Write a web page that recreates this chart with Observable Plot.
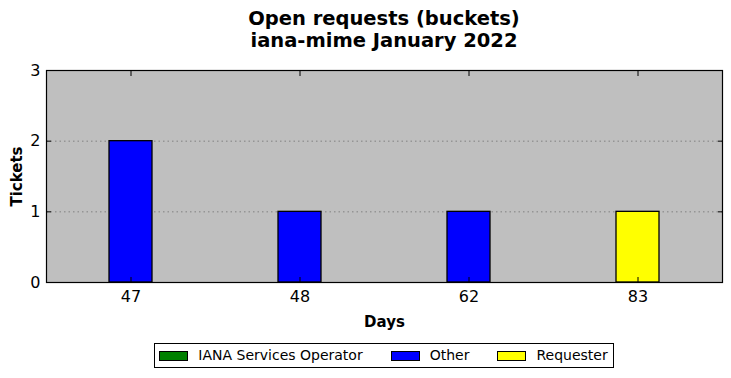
<!DOCTYPE html>
<html><head><meta charset="utf-8">
<script src="https://cdn.jsdelivr.net/npm/d3@7"></script>
<script src="https://cdn.jsdelivr.net/npm/@observablehq/plot@0.6"></script>
<style>
body{margin:0;background:#fff;font-family:"DejaVu Sans",sans-serif;}
#title{margin-left:46px;width:676px;height:60px;text-align:center;font-weight:bold;font-size:19.5px;line-height:22px;padding-top:8px;box-sizing:border-box;color:#000;}
#legendwrap{margin-left:46px;width:676px;text-align:center;margin-top:3px;}
#legend{display:inline-flex;align-items:center;border:1px solid #000;padding:4px 5px 4px 4px;font-size:14px;line-height:15px;}
.item{display:flex;align-items:center;margin-right:28px;}
.item:last-child{margin-right:0}
.sw{width:27px;height:8px;border:1px solid #000;margin-right:10px;}
</style></head><body>
<div id="title">Open requests (buckets)<br>iana-mime January 2022</div>
<div id="chart"></div>
<div id="legendwrap"><div id="legend"></div></div>
<script>
const days = ["47", "48", "62", "83"];
const seriesNames = ["IANA Services Operator", "Other", "Requester"];
const seriesColors = ["#008000", "#0000ff", "#ffff00"];
const ianaValues = [0, 0, 0, 0];
const otherValues = [2, 1, 1, 0];
const requesterValues = [0, 0, 0, 1];
const yTicks = [0, 1, 2, 3];

const valuesBySeries = [ianaValues, otherValues, requesterValues];
const rows = [];
seriesNames.forEach((s, i) => days.forEach((d, j) => rows.push({day: d, series: s, value: valuesBySeries[i][j]})));
const data = rows.filter(r => r.value > 0);

const W = 731, H = 280;
const chart = Plot.plot({
  width: W, height: H,
  marginLeft: 46, marginRight: 9, marginTop: 10, marginBottom: 58,
  style: {fontFamily: "DejaVu Sans, sans-serif", fontSize: "16px", color: "#000", background: "#fff"},
  x: {type: "band", domain: days, padding: 0, label: null},
  y: {domain: [0, 3], label: null},
  color: {domain: seriesNames, range: seriesColors},
  marks: [
    Plot.frame({fill: "#bfbfbf"}),
    Plot.gridY(yTicks, {stroke: "#808080", strokeOpacity: 1, strokeDasharray: "1.5,3", strokeWidth: 1}),
    Plot.barY(data, Plot.stackY({x: "day", y: "value", fill: "series", order: seriesNames, stroke: "#000", strokeWidth: 1.3, insetLeft: 63, insetRight: 63})),
    Plot.axisX({anchor: "bottom", tickSize: -5, text: null, label: null, stroke: "#000"}),
    Plot.axisX({anchor: "bottom", tickSize: 0, tickPadding: 8, fontSize: 16, label: "Days", labelAnchor: "center", labelOffset: 44}),
    Plot.axisX({anchor: "top", tickSize: -5, text: null, label: null}),
    Plot.axisY(yTicks, {anchor: "left", tickSize: -5, text: null, label: null}),
    Plot.axisY(yTicks, {anchor: "left", tickSize: 0, tickPadding: 6, fontSize: 16, label: null, tickFormat: d => String(d)}),
    Plot.axisY(yTicks, {anchor: "right", tickSize: -5, text: null, label: null}),
    Plot.frame({stroke: "#000", strokeWidth: 1.2}),
    Plot.text(["Tickets"], {frameAnchor: "left", textAnchor: "middle", dx: -29, rotate: -90, fontWeight: "bold", fontSize: 15})
  ]
});
chart.querySelectorAll("text").forEach(t => {
  if (t.textContent === "Days") { t.setAttribute("font-weight", "bold"); t.setAttribute("font-size", "15"); }
});
document.getElementById("chart").appendChild(chart);

const lg = document.getElementById("legend");
seriesNames.forEach((s, i) => {
  const it = document.createElement("div"); it.className = "item";
  const sw = document.createElement("div"); sw.className = "sw"; sw.style.background = seriesColors[i];
  const tx = document.createElement("span"); tx.textContent = s;
  it.appendChild(sw); it.appendChild(tx); lg.appendChild(it);
});
</script>
</body></html>
